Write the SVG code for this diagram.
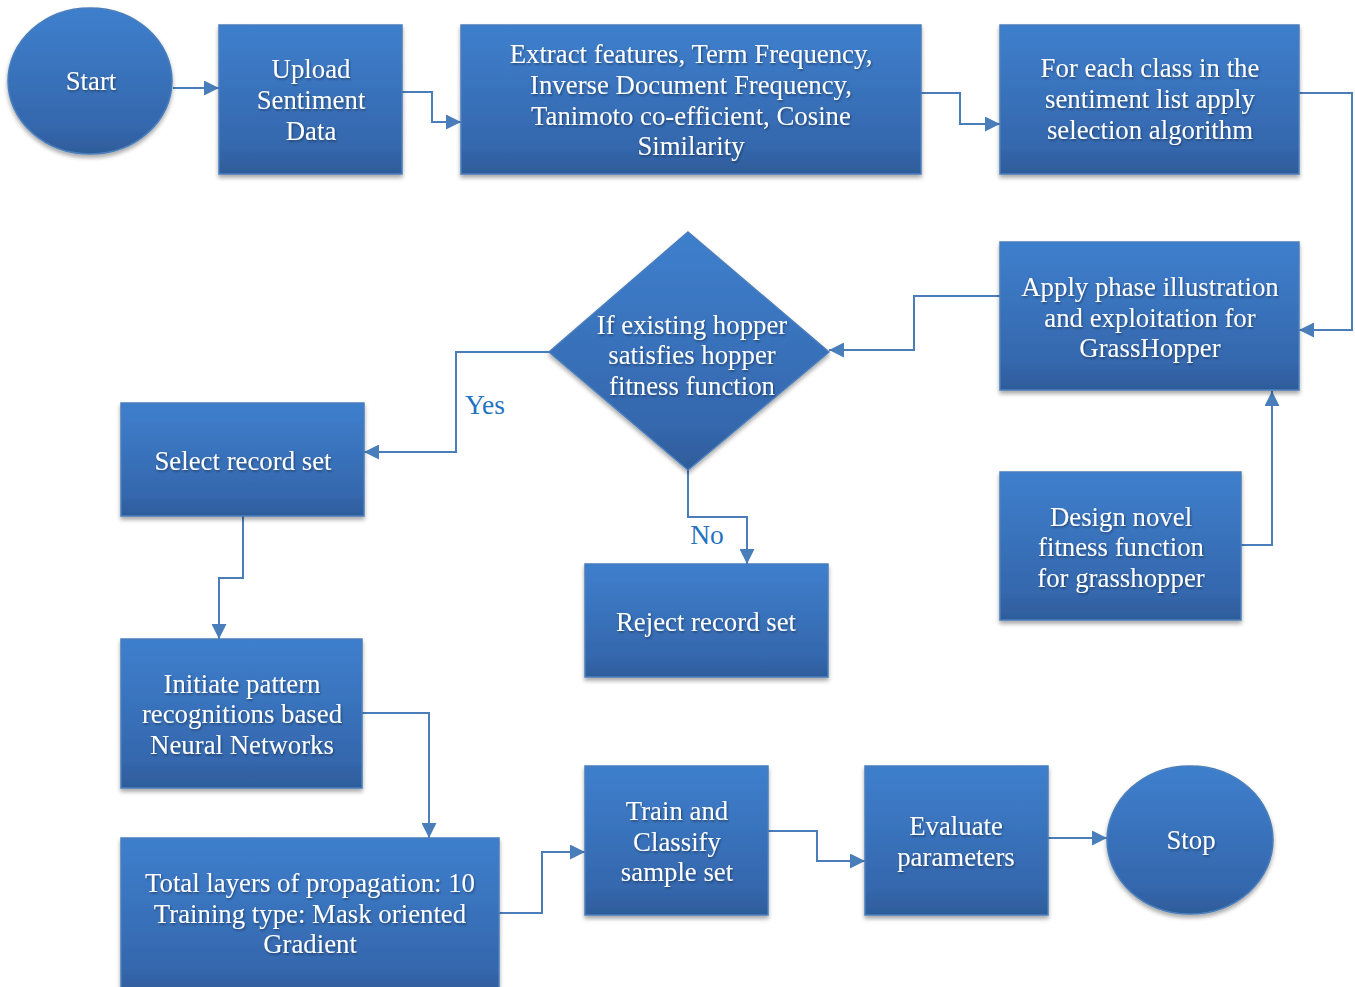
<svg xmlns="http://www.w3.org/2000/svg" width="1355" height="987" viewBox="0 0 1355 987">
<style>
.n{fill:url(#g);stroke:#4A7EBB;stroke-width:1.5;filter:url(#sh)}
.t{font-family:"Liberation Serif","Times New Roman",serif;font-size:26.8px;fill:#fff;text-anchor:middle;filter:url(#ts)}
.c{fill:none;stroke:#4A7EBB;stroke-width:2;marker-end:url(#ah)}
.l{font-family:"Liberation Serif","Times New Roman",serif;font-size:27.5px;fill:#1F73C1;text-anchor:middle}
</style>
<defs>
<linearGradient id="g" x1="0" y1="0" x2="0" y2="1">
<stop offset="0" stop-color="#3E7FCD"/><stop offset="0.8" stop-color="#3568AE"/><stop offset="1" stop-color="#2E5C9A"/>
</linearGradient>
<filter id="sh" x="-10%" y="-10%" width="130%" height="130%">
<feDropShadow dx="0" dy="3" stdDeviation="2" flood-color="#000" flood-opacity="0.35"/>
</filter>
<filter id="ts" x="-10%" y="-20%" width="120%" height="150%">
<feDropShadow dx="1" dy="1.5" stdDeviation="1" flood-color="#000" flood-opacity="0.4"/>
</filter>
<marker id="ah" viewBox="0 0 10 10" refX="10" refY="5" markerWidth="7.5" markerHeight="7.5" orient="auto" markerUnits="strokeWidth">
<path d="M0,0 L10,5 L0,10 z" fill="#4A7EBB"/>
</marker>
</defs>
<rect width="1355" height="987" fill="#fff"/>
<g id="connectors">
<path class="c" d="M173,88 H219"/>
<path class="c" d="M402,92 H432 V122 H461"/>
<path class="c" d="M921,93 H960 V124 H1000"/>
<path class="c" d="M1299,93 H1352 V330 H1299"/>
<path class="c" d="M1000,296 H914 V350 H829"/>
<path class="c" d="M1241,545 H1272 V391"/>
<path class="c" d="M549,352 H456 V452 H364"/>
<path class="c" d="M688,470 V517 H747 V564"/>
<path class="c" d="M243,516 V578 H219 V639"/>
<path class="c" d="M362,713 H429 V838"/>
<path class="c" d="M499,913 H542 V852 H585"/>
<path class="c" d="M768,831 H817 V861 H865"/>
<path class="c" d="M1048,838 H1107"/>
<text class="l" x="485" y="414">Yes</text>
<text class="l" x="707" y="544">No</text>
</g>
<g id="start"><ellipse class="n" cx="90" cy="81" rx="82" ry="73"/><text class="t" x="91" y="90">Start</text></g>
<g id="upload"><rect class="n" x="219" y="25" width="183" height="149"/>
<text class="t" x="311" y="78">Upload</text><text class="t" x="311" y="109">Sentiment</text><text class="t" x="311" y="140">Data</text></g>
<g id="extract"><rect class="n" x="461" y="25" width="460" height="149"/>
<text class="t" x="691" y="63">Extract features, Term Frequency,</text><text class="t" x="691" y="94">Inverse Document Frequency,</text><text class="t" x="691" y="125">Tanimoto co-efficient, Cosine</text><text class="t" x="691" y="155">Similarity</text></g>
<g id="foreach"><rect class="n" x="1000" y="25" width="299" height="149"/>
<text class="t" x="1150" y="77">For each class in the</text><text class="t" x="1150" y="108">sentiment list apply</text><text class="t" x="1150" y="139">selection algorithm</text></g>
<g id="apply"><rect class="n" x="1000" y="242" width="299" height="148"/>
<text class="t" x="1150" y="296">Apply phase illustration</text><text class="t" x="1150" y="327">and exploitation for</text><text class="t" x="1150" y="357">GrassHopper</text></g>
<g id="design"><rect class="n" x="1000" y="472" width="241" height="148"/>
<text class="t" x="1121" y="526">Design novel</text><text class="t" x="1121" y="556">fitness function</text><text class="t" x="1121" y="587">for grasshopper</text></g>
<g id="decision"><polygon class="n" points="688,232 829,352 688,470 549,352"/>
<text class="t" x="692" y="334">If existing hopper</text><text class="t" x="692" y="364">satisfies hopper</text><text class="t" x="692" y="395">fitness function</text></g>
<g id="select"><rect class="n" x="121" y="403" width="243" height="113"/>
<text class="t" x="243" y="470">Select record set</text></g>
<g id="reject"><rect class="n" x="585" y="564" width="243" height="113"/>
<text class="t" x="706" y="631">Reject record set</text></g>
<g id="initiate"><rect class="n" x="121" y="639" width="241" height="149"/>
<text class="t" x="242" y="693">Initiate pattern</text><text class="t" x="242" y="723">recognitions based</text><text class="t" x="242" y="754">Neural Networks</text></g>
<g id="total"><rect class="n" x="121" y="838" width="378" height="160"/>
<text class="t" x="310" y="892">Total layers of propagation: 10</text><text class="t" x="310" y="923">Training type: Mask oriented</text><text class="t" x="310" y="953">Gradient</text></g>
<g id="train"><rect class="n" x="585" y="766" width="183" height="149"/>
<text class="t" x="677" y="820">Train and</text><text class="t" x="677" y="851">Classify</text><text class="t" x="677" y="881">sample set</text></g>
<g id="evaluate"><rect class="n" x="865" y="766" width="183" height="149"/>
<text class="t" x="956" y="835">Evaluate</text><text class="t" x="956" y="866">parameters</text></g>
<g id="stop"><ellipse class="n" cx="1190" cy="840" rx="83" ry="74"/><text class="t" x="1191" y="849">Stop</text></g>
</svg>
